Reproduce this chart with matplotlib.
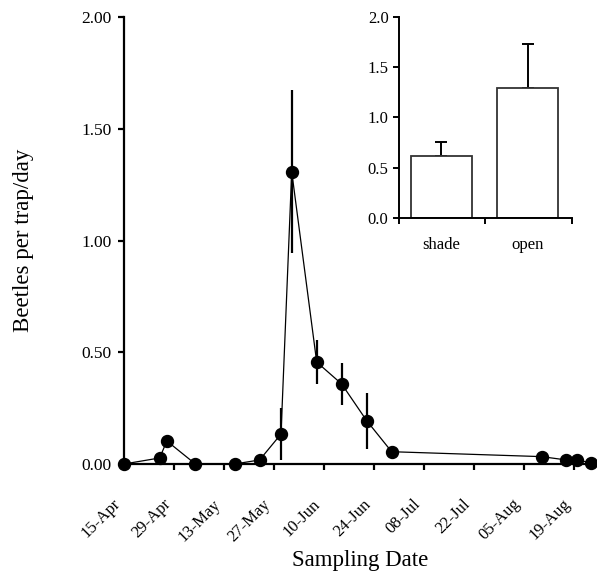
import matplotlib
matplotlib.use("Agg")
import matplotlib.pyplot as plt
import matplotlib.dates as mdates
from matplotlib.ticker import FormatStrFormatter
import pandas as pd

plt.rcParams['font.family'] = ['Liberation Serif', 'DejaVu Serif']

# sampling dates and mean beetles per trap/day (+/- SE)
dates = ["2003-04-15", "2003-04-25", "2003-04-27", "2003-05-05", "2003-05-16",
         "2003-05-23", "2003-05-29", "2003-06-01", "2003-06-08", "2003-06-15",
         "2003-06-22", "2003-06-29", "2003-08-10", "2003-08-17", "2003-08-20",
         "2003-08-24"]
means = [0.0, 0.027, 0.103, 0.0, 0.0, 0.018, 0.134, 1.308, 0.456, 0.358,
         0.194, 0.055, 0.033, 0.018, 0.018, 0.005]
errors = [0.0, 0.0, 0.0, 0.0, 0.0, 0.0, 0.115, 0.365, 0.10, 0.095,
          0.125, 0.0, 0.0, 0.0, 0.0, 0.0]
tick_dates = ["2003-04-15", "2003-04-29", "2003-05-13", "2003-05-27", "2003-06-10",
              "2003-06-24", "2003-07-08", "2003-07-22", "2003-08-05", "2003-08-19"]

# inset: habitat comparison
habitats = ["shade", "open"]
habitat_means = [0.62, 1.295]
habitat_errors = [0.14, 0.435]

x = pd.to_datetime(dates)
start = pd.Timestamp("2003-04-15")

fig = plt.figure(figsize=(5.97, 5.71), dpi=100)
ax = fig.add_axes([0.2077, 0.1874, 0.792, 0.7828])

ax.errorbar(x, means, yerr=errors, fmt="none", ecolor="black", elinewidth=1.6,
            capsize=0, clip_on=False, zorder=2)
ax.plot(x, means, color="black", lw=0.9, marker="o", markersize=8.6,
        clip_on=False, zorder=3)

ax.set_xlim(start, start + pd.Timedelta(days=132.5))
ax.set_ylim(0, 2)
ax.set_yticks([0, 0.5, 1.0, 1.5, 2.0])
ax.yaxis.set_major_formatter(FormatStrFormatter("%.2f"))
ax.set_xticks(pd.to_datetime(tick_dates))
ax.xaxis.set_major_formatter(mdates.DateFormatter("%d-%b"))

for side in ["top", "right"]:
    ax.spines[side].set_visible(False)
for side in ["left", "bottom"]:
    ax.spines[side].set_linewidth(1.6)
ax.tick_params(width=1.6, length=4, labelsize=12.5, pad=5)
ax.tick_params(axis="x", pad=19, labelsize=12)
for lab in ax.get_xticklabels():
    lab.set_rotation(45)
    lab.set_ha("right")

ax.set_xlabel("Sampling Date", fontsize=16.5, labelpad=4)
ax.set_ylabel("Beetles per trap/day", fontsize=16.5, labelpad=34)

# inset bar chart
ins = fig.add_axes([0.6683, 0.6182, 0.2893, 0.3526])
pos = [0.49, 1.49]
ins.bar(pos, habitat_means, width=0.71, color="white", edgecolor="#333333",
        linewidth=1.3, zorder=2)
ins.errorbar(pos, habitat_means, yerr=[[0, 0], habitat_errors], fmt="none",
             ecolor="black", elinewidth=1.4, capsize=4.3, capthick=1.4, zorder=1)
ins.set_xlim(0, 2)
ins.set_ylim(0, 2)
ins.set_yticks([0, 0.5, 1.0, 1.5, 2.0])
ins.yaxis.set_major_formatter(FormatStrFormatter("%.1f"))
ins.set_xticks([0, 1, 2])
ins.set_xticklabels([])
ins.set_xticks(pos, minor=True)
ins.set_xticklabels(habitats, minor=True)
ins.tick_params(axis="x", which="minor", length=0, pad=14, labelsize=12)
for side in ["top", "right"]:
    ins.spines[side].set_visible(False)
for side in ["left", "bottom"]:
    ins.spines[side].set_linewidth(1.4)
ins.tick_params(which="major", width=1.4, length=4, labelsize=12)

fig.savefig("out.png", dpi=100)
